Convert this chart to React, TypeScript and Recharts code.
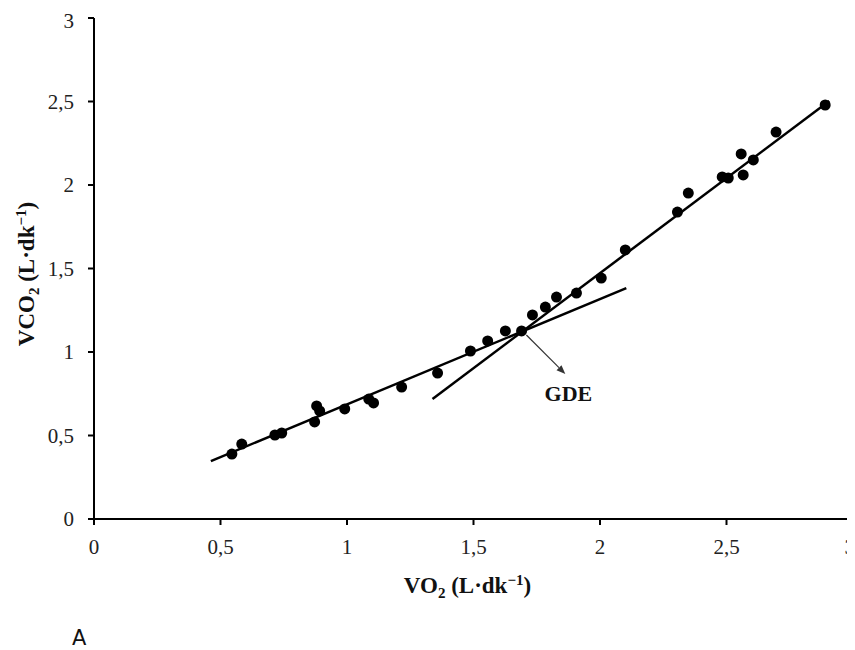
import React from 'react';
import {
  ScatterChart, Scatter, XAxis, YAxis, ReferenceLine, ReferenceDot, Label,
} from 'recharts';

const vo2 = [0.545, 0.584, 0.715, 0.742, 0.872, 0.88, 0.892, 0.991, 1.086, 1.105, 1.216, 1.358, 1.488, 1.556, 1.626, 1.69, 1.733, 1.784, 1.828, 1.907, 2.005, 2.1, 2.306, 2.349, 2.483, 2.507, 2.558, 2.566, 2.606, 2.696, 2.89];
const vco2 = [0.389, 0.449, 0.503, 0.515, 0.581, 0.677, 0.647, 0.659, 0.718, 0.695, 0.79, 0.874, 1.006, 1.066, 1.126, 1.126, 1.222, 1.269, 1.329, 1.353, 1.443, 1.611, 1.838, 1.952, 2.048, 2.042, 2.186, 2.06, 2.15, 2.317, 2.479];

const ticks = [0, 0.5, 1, 1.5, 2, 2.5, 3];

// fitted lines (start / end points in data units)
const shallowLine = [{ x: 0.462, y: 0.347 }, { x: 2.104, y: 1.383 }];
const steepLine = [{ x: 1.338, y: 0.719 }, { x: 2.906, y: 2.503 }];
const arrowLine = [{ x: 1.709, y: 1.102 }, { x: 1.863, y: 0.868 }];
const gdeLabel = { x: 1.875, y: 0.754, text: 'GDE' };

const points = vo2.map((x, i) => ({ x, y: vco2[i] }));

const serif = '"Liberation Serif", "Times New Roman", serif';
const fmt = (v: number) => String(v).replace('.', ',');

const Dot = (p: any) => <circle cx={p.cx} cy={p.cy} r={5.5} fill="#000" />;

const Arrow = (p: any) => {
  const { x1, y1, x2, y2 } = p;
  const a = Math.atan2(y2 - y1, x2 - x1);
  const len = 9;
  const w = 3.5;
  const bx = x2 - len * Math.cos(a);
  const by = y2 - len * Math.sin(a);
  const nx = -Math.sin(a) * w;
  const ny = Math.cos(a) * w;
  return (
    <g>
      <line x1={x1} y1={y1} x2={bx} y2={by} stroke="#333" strokeWidth={1.2} />
      <polygon points={`${x2},${y2} ${bx + nx},${by + ny} ${bx - nx},${by - ny}`} fill="#333" />
    </g>
  );
};

const Title = ({ head }: { head: string }) => (
  <>
    {head}<tspan fontSize={15} dy={5}>2</tspan>
    <tspan dy={-5}> (L·dk</tspan>
    <tspan fontSize={15} dy={-8}>−1</tspan>
    <tspan dy={8}>)</tspan>
  </>
);

const XTitle = (props: any) => {
  const vb = props.viewBox;
  return (
    <text x={vb.x + vb.width / 2 - 6} y={vb.y + 74} textAnchor="middle" fontFamily={serif} fontWeight="bold" fontSize={23} fill="#111">
      <Title head="VO" />
    </text>
  );
};

const YTitle = () => (
  <text x={0} y={0} transform="translate(26,266) rotate(-90)" textAnchor="middle" fontFamily={serif} fontWeight="bold" fontSize={23} fill="#111">
    <Title head="VCO" />
  </text>
);

export default function App() {
  return (
    <div style={{ position: 'relative', width: 847, height: 642 }}>
      <ScatterChart width={847} height={600} margin={{ top: 10, right: 2, bottom: 0, left: 0 }}>
        <XAxis
          type="number" dataKey="x" domain={[0, 3]} ticks={ticks} tickFormatter={fmt}
          axisLine={{ stroke: '#000', strokeWidth: 2 }} tickLine={{ stroke: '#000', strokeWidth: 2 }}
          tickSize={6} tickMargin={14} height={89}
          tick={{ fontFamily: serif, fontSize: 21, fill: '#222' }}
        >
          <Label content={XTitle} />
        </XAxis>
        <YAxis
          type="number" dataKey="y" domain={[0, 3]} ticks={ticks} tickFormatter={fmt}
          axisLine={{ stroke: '#000', strokeWidth: 2 }} tickLine={{ stroke: '#000', strokeWidth: 2 }}
          tickSize={6} tickMargin={14} width={86}
          tick={{ fontFamily: serif, fontSize: 21, fill: '#222' }}
        />
        <ReferenceLine segment={shallowLine} stroke="#000" strokeWidth={2.5} ifOverflow="visible" />
        <ReferenceLine segment={steepLine} stroke="#000" strokeWidth={2.5} ifOverflow="visible" />
        <ReferenceLine segment={arrowLine} ifOverflow="visible" shape={Arrow} />
        <Scatter data={points} shape={Dot} isAnimationActive={false} />
        <ReferenceDot
          x={gdeLabel.x} y={gdeLabel.y} r={0} ifOverflow="visible"
          shape={(p: any) => (
            <text x={p.cx} y={p.cy} dy="0.35em" textAnchor="middle" fontFamily={serif} fontWeight="bold" fontSize={22} fill="#111">
              {gdeLabel.text}
            </text>
          )}
        />
        <YTitle />
      </ScatterChart>
      <div style={{ position: 'absolute', left: 64, top: 622, height: 16, fontFamily: '"DejaVu Sans", sans-serif', fontSize: 21, lineHeight: '16px', color: '#111' }}>
        A
      </div>
    </div>
  );
}
